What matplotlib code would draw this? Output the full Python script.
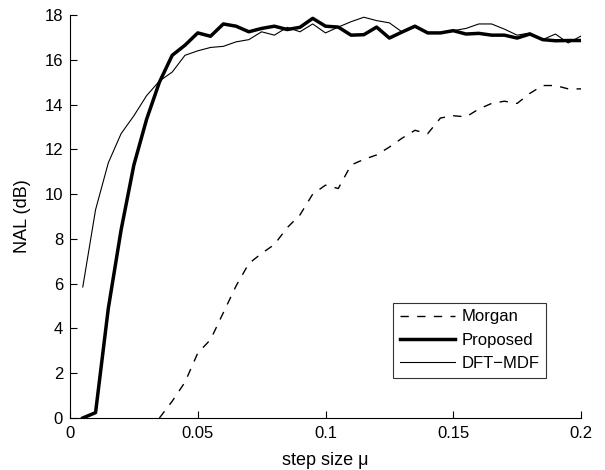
import matplotlib
matplotlib.use("Agg")
import matplotlib.pyplot as plt
import numpy as np

plt.rcParams['font.family'] = ['Liberation Sans', 'DejaVu Sans']

mu_prop = [0.005, 0.01, 0.015, 0.02, 0.025, 0.03, 0.035, 0.04, 0.045, 0.05,
           0.055, 0.06, 0.065, 0.07, 0.075, 0.08, 0.085, 0.09, 0.095, 0.1,
           0.105, 0.11, 0.115, 0.12, 0.125, 0.13, 0.135, 0.14, 0.145, 0.15,
           0.155, 0.16, 0.165, 0.17, 0.175, 0.18, 0.185, 0.19, 0.195, 0.2]
proposed = [0.0, 0.24, 4.9, 8.4, 11.3, 13.35, 15.0, 16.2, 16.65, 17.2,
            17.05, 17.6, 17.5, 17.25, 17.4, 17.5, 17.35, 17.45, 17.85, 17.5,
            17.46, 17.1, 17.12, 17.46, 16.97, 17.24, 17.5, 17.2, 17.2, 17.3,
            17.15, 17.18, 17.1, 17.1, 16.97, 17.15, 16.9, 16.85, 16.86, 16.86]
dftmdf = [5.85, 9.3, 11.4, 12.7, 13.5, 14.4, 15.05, 15.45, 16.2, 16.4,
          16.55, 16.6, 16.8, 16.9, 17.25, 17.1, 17.45, 17.25, 17.6, 17.2,
          17.46, 17.7, 17.9, 17.75, 17.65, 17.24, 17.46, 17.2, 17.2, 17.3,
          17.4, 17.6, 17.6, 17.37, 17.1, 17.2, 16.9, 17.15, 16.75, 17.06]
mu_morgan = [0.035, 0.04, 0.045, 0.05, 0.055, 0.06, 0.065, 0.07, 0.075, 0.08,
             0.085, 0.09, 0.095, 0.1, 0.105, 0.11, 0.115, 0.12, 0.125, 0.13,
             0.135, 0.14, 0.145, 0.15, 0.155, 0.16, 0.165, 0.17, 0.175, 0.18,
             0.185, 0.19, 0.195, 0.2]
morgan = [0.0, 0.75, 1.6, 2.9, 3.5, 4.7, 5.9, 6.9, 7.35, 7.75,
          8.5, 9.07, 10.0, 10.4, 10.25, 11.3, 11.55, 11.75, 12.1, 12.5,
          12.85, 12.7, 13.4, 13.5, 13.45, 13.8, 14.05, 14.15, 14.05, 14.5,
          14.85, 14.85, 14.7, 14.7]

xticks = [0, 0.05, 0.1, 0.15, 0.2]
xticklabels = ['0', '0.05', '0.1', '0.15', '0.2']
yticks = list(range(0, 19, 2))

fig = plt.figure(figsize=(6.05, 4.7), dpi=100)
ax = fig.add_axes([70/605, 52/470, 511/605, 403/470])

ax.plot(mu_morgan, morgan, color='black', lw=1.0, ls=(0, (6, 6)), label='Morgan')
ax.plot(mu_prop, proposed, color='black', lw=2.5, label='Proposed')
ax.plot(mu_prop, dftmdf, color='black', lw=0.8, label='DFT\u2212MDF')

ax.set_xlim(0, 0.2)
ax.set_ylim(0, 18)
ax.set_xticks(xticks)
ax.set_xticklabels(xticklabels)
ax.set_yticks(yticks)
ax.tick_params(direction='in', length=5, width=0.8, labelsize=12, colors='black')
ax.tick_params(axis='x', pad=6)
ax.tick_params(axis='y', pad=5)
ax.spines['top'].set_visible(False)
ax.spines['right'].set_visible(False)
for s in ['left', 'bottom']:
    ax.spines[s].set_linewidth(0.8)
ax.set_xlabel('step size \u03bc', fontsize=13, labelpad=8)
ax.set_ylabel('NAL (dB)', fontsize=13, labelpad=10)

leg = ax.legend(loc='lower right', bbox_to_anchor=(0.932, 0.1), fontsize=12,
                frameon=True, fancybox=False, edgecolor='black',
                handlelength=3.3, borderpad=0.4, labelspacing=0.5,
                handletextpad=0.4, borderaxespad=0)
leg.get_frame().set_linewidth(0.8)

fig.savefig('out.png', dpi=100)
